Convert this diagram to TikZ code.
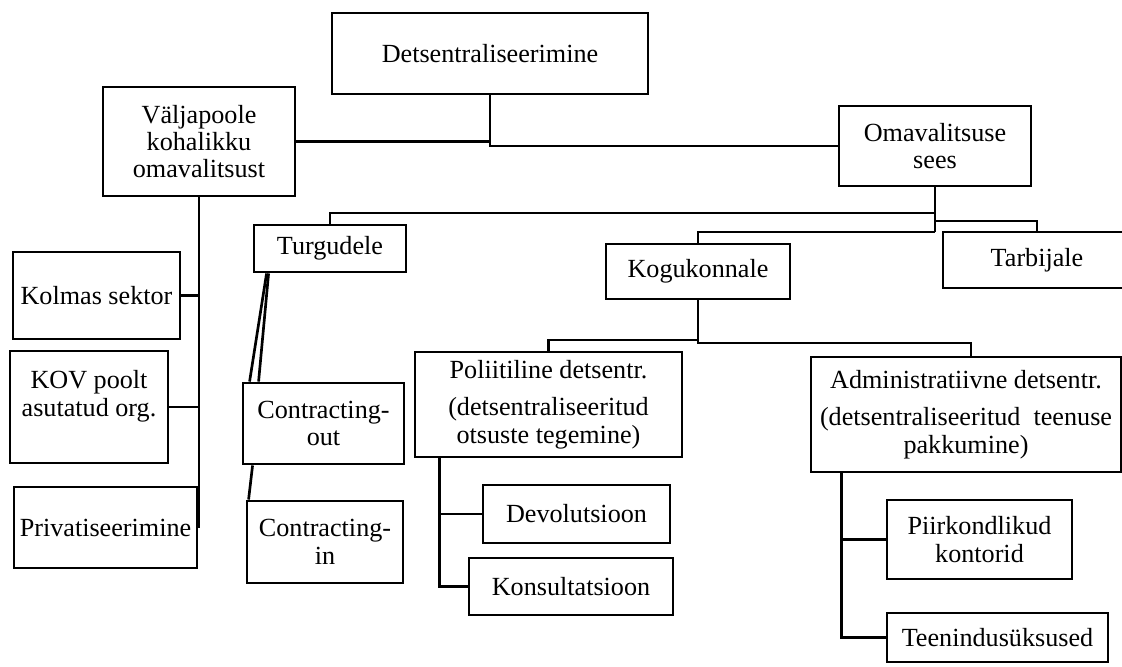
\documentclass[tikz,border=0pt]{standalone}
\usepackage{fontspec}
\setmainfont{Liberation Serif}

\begin{document}
\begin{tikzpicture}[
  x=0.025cm, y=-0.025cm,
  box/.style={rectangle, draw=black, line width=2pt, fill=white, inner sep=0pt,
              align=center, font=\fontsize{18.6pt}{19.5pt}\selectfont},
  conn/.style={line width=1.9pt, black}
]
\useasboundingbox (0,0) rectangle (1122,666);

% --- Top level ---
\node[box, minimum width=7.9cm, minimum height=2.025cm]  (detsen) at (490,53.5)   {Detsentraliseerimine};
\node[box, minimum width=4.8cm, minimum height=2.725cm]  (valja)  at (199,141.5)  {Väljapoole\\kohalikku\\omavalitsust};
\node[box, minimum width=4.8cm, minimum height=2.0cm]    (omav)   at (935,146)    {Omavalitsuse\\sees};

% --- Outside the local government ---
\node[box, minimum width=4.175cm, minimum height=2.175cm] (kolm) at (96.5,295.5)  {Kolmas sektor};
\node[box, minimum width=3.95cm, minimum height=2.8cm]    (kov)  at (89,407)      {KOV poolt\\asutatud org.\\\mbox{}};
\node[box, minimum width=4.575cm, minimum height=2.025cm] (priv) at (105.5,527.5) {Privatiseerimine};

% --- Inside the local government ---
\node[box, minimum width=3.8cm, minimum height=1.175cm]  (turg) at (330,248.5)  {Turgudele};
\node[box, minimum width=4.6cm, minimum height=1.375cm]  (kogu) at (698,271.5)  {Kogukonnale};
\node[box, minimum width=4.7cm, minimum height=1.4cm]    (tarb) at (1037,260)   {Tarbijale};

\node[box, minimum width=4.025cm, minimum height=2.025cm] (cout) at (323.5,423.5) {Contracting-\\out};
\node[box, minimum width=3.9cm, minimum height=2.05cm]    (cin)  at (325,542)     {Contracting-\\in};

\node[box, minimum width=6.675cm, minimum height=2.625cm] (poli)  at (548.5,404.5)
      {Poliitiline detsentr.\\[7pt](detsentraliseeritud\\otsuste tegemine)};
\node[box, minimum width=7.75cm, minimum height=2.875cm]  (admin) at (966,414.5)
      {Administratiivne detsentr.\\[7pt](detsentraliseeritud\ \ teenuse\\pakkumine)};

\node[box, minimum width=4.675cm, minimum height=1.45cm]  (devo) at (576.5,514)   {Devolutsioon};
\node[box, minimum width=5.1cm, minimum height=1.425cm]   (kons) at (571,586.5)   {Konsultatsioon};
\node[box, minimum width=4.625cm, minimum height=1.975cm] (piir) at (979.5,539.5) {Piirkondlikud\\kontorid};
\node[box, minimum width=5.525cm, minimum height=1.225cm] (teen) at (997.5,637.5) {Teenindusüksused};

% --- Junctions ---
\coordinate (jm)  at (935,213);
\coordinate (jt)  at (935,221);
\coordinate (jk)  at (935,232);
\coordinate (kjl) at (698,340);
\coordinate (kjr) at (698,343);

% --- Connectors ---
\draw[conn] (valja.east) -| (detsen.south);
\draw[conn] (detsen.south) |- (omav.west);

\draw[conn] (valja.south) -- (valja.south |- priv.east);
\draw[conn] (kolm.east) -- (kolm.east -| valja.south);
\draw[conn] (kov.east)  -- (kov.east -| valja.south);

\draw[conn] (omav.south) -- (jk);
\draw[conn] (jm) -| (turg.north);
\draw[conn] (jt) -| (tarb.north);
\draw[conn] (jk) -| (kogu.north);

\draw[conn] ([xshift=0.35cm]turg.south west) -- ([xshift=0.2cm]cout.north west);
\draw[conn] ([xshift=0.4cm]turg.south west) -- ([xshift=0.425cm]cout.north west);
\draw[conn] ([xshift=0.275cm]cout.south west) -- ([xshift=0.075cm]cin.north west);

\draw[conn] (kogu.south) -- (kjr) -| ([xshift=0.125cm]admin.north);
\draw[conn] (kjl) -| (poli.north);

\draw[conn] (poli.south west) ++(26,0) coordinate (ps) -- (ps |- kons.west) -- (kons.west);
\draw[conn] (ps |- devo.west) -- (devo.west);

\draw[conn] (admin.south west) ++(32,0) coordinate (as) -- (as |- teen.west) -- (teen.west);
\draw[conn] (as |- piir.west) -- (piir.west);

\end{tikzpicture}
\end{document}
